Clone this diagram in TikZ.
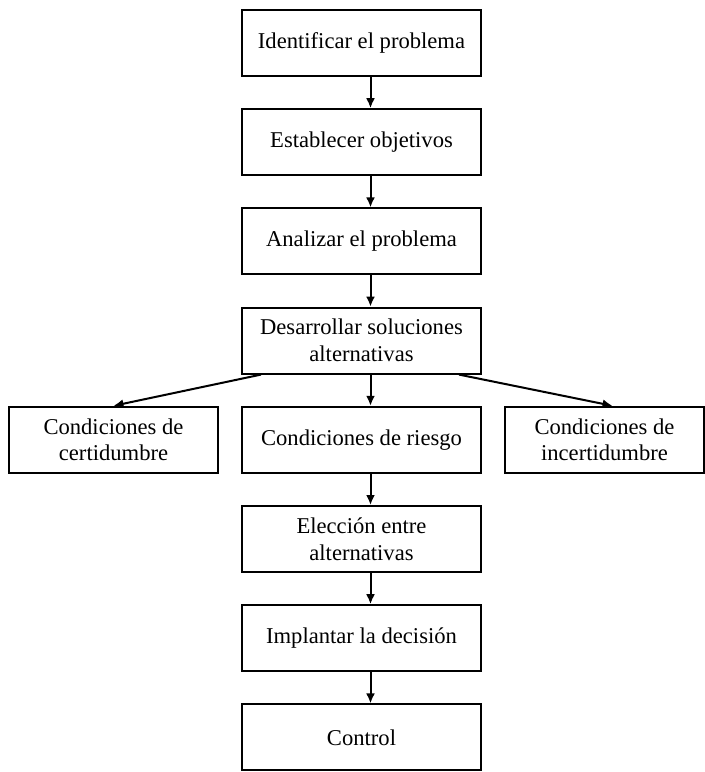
\documentclass[tikz,border=0pt]{standalone}
\usepackage{fontspec}
\setmainfont{Liberation Serif}
\usetikzlibrary{positioning, arrows.meta}
\tikzset{
 caja/.style = {draw, line width=1pt, minimum width=119.5pt, minimum height=33pt, align=center, inner sep=2pt, font=\fontsize{11.3}{13.4}\selectfont},
 flecha/.style = {line width=1pt, -{Latex[length=5pt, width=4.5pt]}}
}
\begin{document}
\begin{tikzpicture}[x=0.5pt, y=0.5pt, node distance=15.6pt]
 \useasboundingbox (0,0) rectangle (705,-772);
 \node [caja] (ident) at (361.5,-43) {Identificar el problema};
 \node [caja, below=of ident] (objet) {Establecer objetivos};
 \node [caja, below=of objet] (analiz) {Analizar el problema};
 \node [caja, below=of analiz] (desarr) {Desarrollar soluciones\\alternativas};
 \node [caja, below=of desarr] (riesgo) {Condiciones de riesgo};
 \node [caja, minimum width=104.5pt, left=11pt of riesgo] (certid) {Condiciones de\\certidumbre};
 \node [caja, minimum width=99.5pt, right=11pt of riesgo] (incert) {Condiciones de\\incertidumbre};
 \node [caja, below=of riesgo] (elecc) {Elección entre\\alternativas};
 \node [caja, below=of elecc] (impl) {Implantar la decisión};
 \node [caja, below=of impl] (control) {Control};
 \draw [flecha] ([xshift=4.5pt]ident.south) -- ([xshift=4.5pt]objet.north);
 \draw [flecha] ([xshift=4.5pt]objet.south) -- ([xshift=4.5pt]analiz.north);
 \draw [flecha] ([xshift=4.5pt]analiz.south) -- ([xshift=4.5pt]desarr.north);
 \draw [flecha] ([xshift=4.5pt]desarr.south) -- ([xshift=4.5pt]riesgo.north);
 \draw [flecha] ([xshift=10pt]desarr.south west) -- (certid.north);
 \draw [flecha] ([xshift=-11.5pt]desarr.south east) -- ([xshift=4pt]incert.north);
 \draw [flecha] ([xshift=4.5pt]riesgo.south) -- ([xshift=4.5pt]elecc.north);
 \draw [flecha] ([xshift=4.5pt]elecc.south) -- ([xshift=4.5pt]impl.north);
 \draw [flecha] ([xshift=4.5pt]impl.south) -- ([xshift=4.5pt]control.north);
\end{tikzpicture}
\end{document}
